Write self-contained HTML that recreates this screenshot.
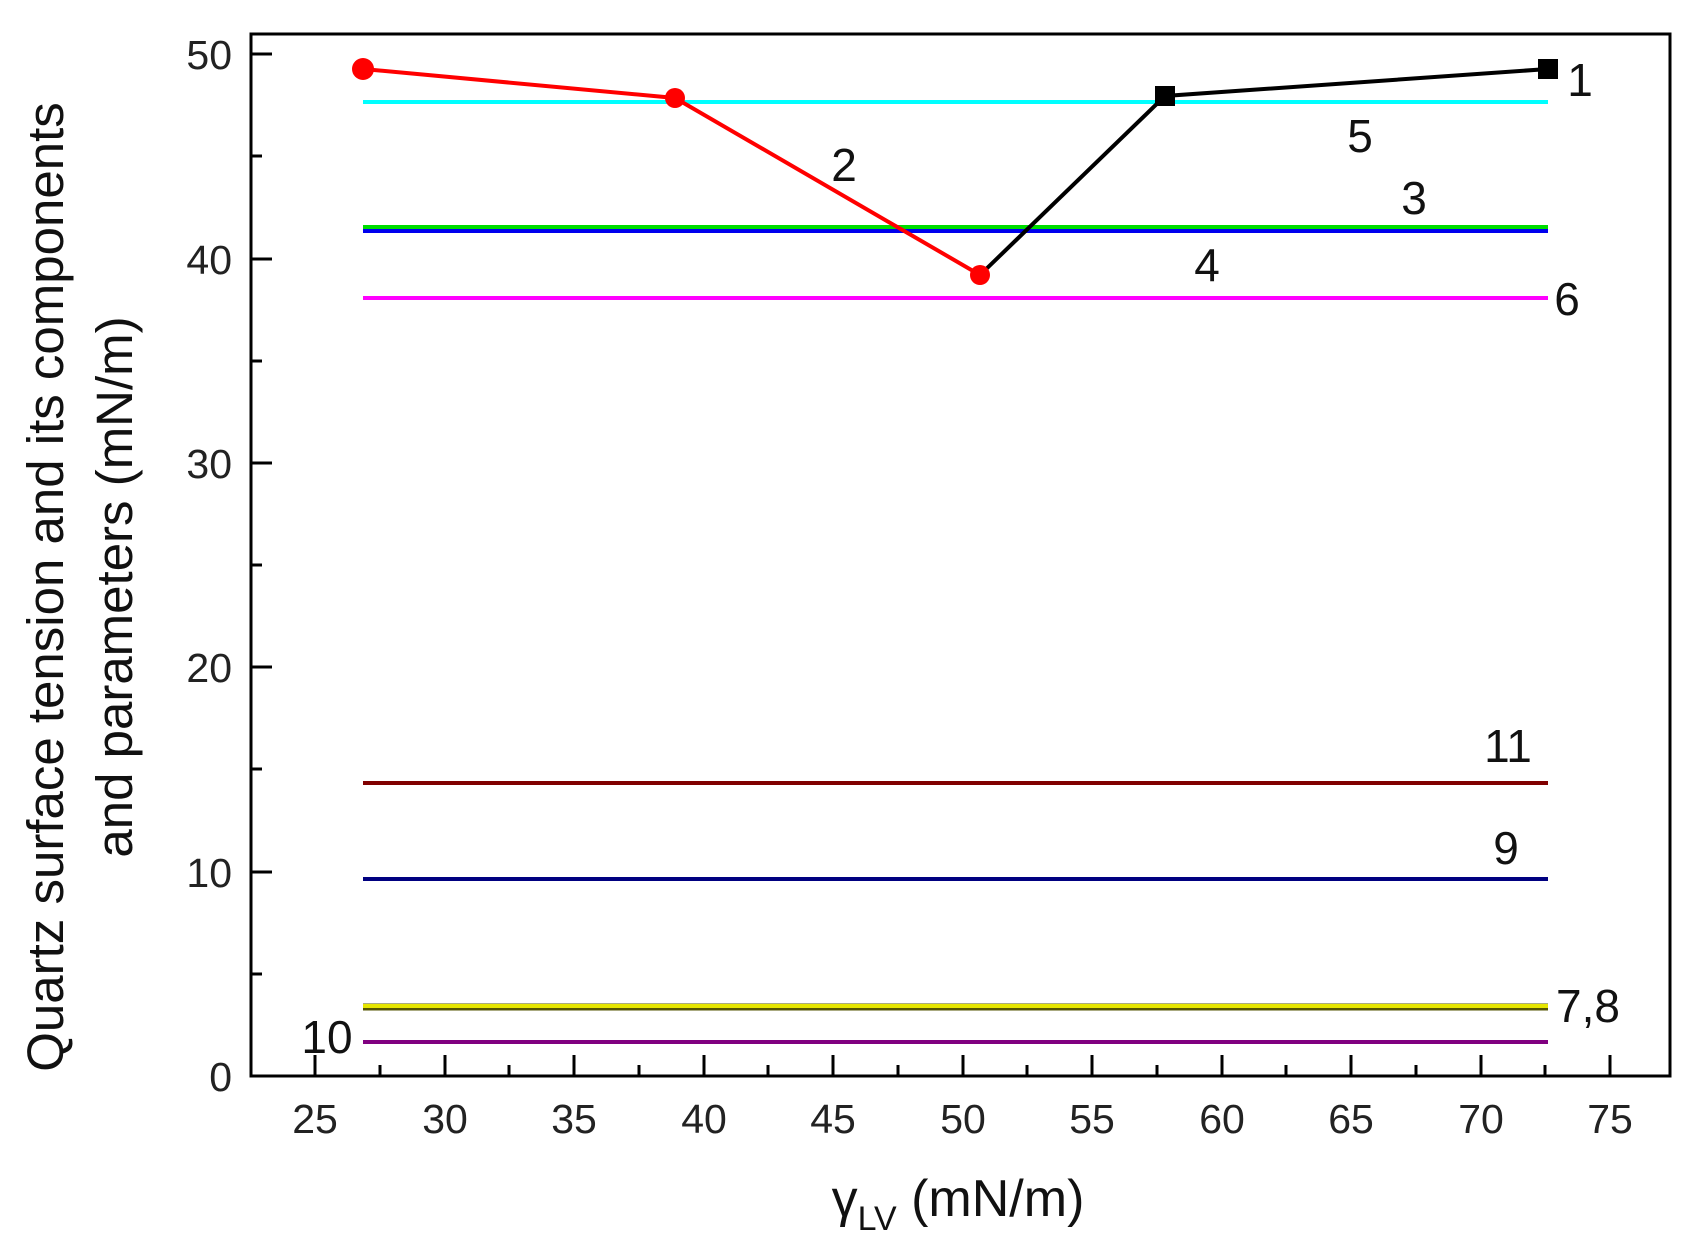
<!DOCTYPE html>
<html><head><meta charset="utf-8"><style>body{margin:0;background:#fff}svg{display:block}</style></head>
<body>
<svg width="1689" height="1258" xmlns="http://www.w3.org/2000/svg" font-family="Liberation Sans, Arial, sans-serif">
<rect width="1689" height="1258" fill="#fff"/>
<g stroke-width="4">
<line x1="363" x2="1548" y1="102" y2="102" stroke="#00ffff"/>
<line x1="363" x2="1548" y1="227" y2="227" stroke="#00dd00"/>
<line x1="363" x2="1548" y1="231" y2="231" stroke="#0000ee"/>
<line x1="363" x2="1548" y1="298" y2="298" stroke="#ff00ff"/>
<line x1="363" x2="1548" y1="783" y2="783" stroke="#800000"/>
<line x1="363" x2="1548" y1="879" y2="879" stroke="#000080"/>
<line x1="363" x2="1548" y1="1007" y2="1007" stroke="#555500" stroke-width="7"/>
<line x1="363" x2="1548" y1="1006" y2="1006" stroke="#e6e600" stroke-width="4"/>
<line x1="363" x2="1548" y1="1042" y2="1042" stroke="#800080"/>
</g>
<polyline points="980,275 1165,96 1548,69" fill="none" stroke="#000" stroke-width="4"/>
<polyline points="363,69 675,98 980,275" fill="none" stroke="#ff0000" stroke-width="4"/>
<rect x="1155" y="86" width="20" height="20" fill="#000"/>
<rect x="1538" y="59" width="20" height="20" fill="#000"/>
<g fill="#ff0000"><circle cx="363" cy="69" r="11"/><circle cx="675" cy="98" r="10"/><circle cx="980" cy="275" r="10"/></g>
<rect x="251" y="34" width="1419" height="1042" fill="none" stroke="#000" stroke-width="3"/>
<g stroke="#000" stroke-width="3">
<line x1="315" x2="315" y1="1076" y2="1055"/><line x1="445" x2="445" y1="1076" y2="1055"/><line x1="574" x2="574" y1="1076" y2="1055"/><line x1="704" x2="704" y1="1076" y2="1055"/><line x1="833" x2="833" y1="1076" y2="1055"/><line x1="963" x2="963" y1="1076" y2="1055"/><line x1="1092" x2="1092" y1="1076" y2="1055"/><line x1="1222" x2="1222" y1="1076" y2="1055"/><line x1="1351" x2="1351" y1="1076" y2="1055"/><line x1="1481" x2="1481" y1="1076" y2="1055"/><line x1="1610" x2="1610" y1="1076" y2="1055"/>
<line x1="380" x2="380" y1="1076" y2="1065"/><line x1="509" x2="509" y1="1076" y2="1065"/><line x1="639" x2="639" y1="1076" y2="1065"/><line x1="768" x2="768" y1="1076" y2="1065"/><line x1="898" x2="898" y1="1076" y2="1065"/><line x1="1027" x2="1027" y1="1076" y2="1065"/><line x1="1157" x2="1157" y1="1076" y2="1065"/><line x1="1286" x2="1286" y1="1076" y2="1065"/><line x1="1416" x2="1416" y1="1076" y2="1065"/><line x1="1545" x2="1545" y1="1076" y2="1065"/>
<line x1="251" x2="272" y1="872" y2="872"/><line x1="251" x2="272" y1="667" y2="667"/><line x1="251" x2="272" y1="463" y2="463"/><line x1="251" x2="272" y1="259" y2="259"/><line x1="251" x2="272" y1="54" y2="54"/>
<line x1="251" x2="262" y1="974" y2="974"/><line x1="251" x2="262" y1="769" y2="769"/><line x1="251" x2="262" y1="565" y2="565"/><line x1="251" x2="262" y1="361" y2="361"/><line x1="251" x2="262" y1="156" y2="156"/>
</g>
<g font-size="41" fill="#222" text-anchor="middle">
<text x="315" y="1133">25</text><text x="445" y="1133">30</text><text x="574" y="1133">35</text><text x="704" y="1133">40</text><text x="833" y="1133">45</text><text x="963" y="1133">50</text><text x="1092" y="1133">55</text><text x="1222" y="1133">60</text><text x="1351" y="1133">65</text><text x="1481" y="1133">70</text><text x="1610" y="1133">75</text>
</g>
<g font-size="41" fill="#222" text-anchor="end">
<text x="232" y="1091">0</text><text x="232" y="887">10</text><text x="232" y="682">20</text><text x="232" y="478">30</text><text x="232" y="274">40</text><text x="232" y="69">50</text>
</g>
<g font-size="46" fill="#111" text-anchor="middle">
<text x="1580" y="96">1</text><text x="1360" y="152">5</text><text x="844" y="181">2</text><text x="1414" y="214">3</text><text x="1207" y="281">4</text><text x="1567" y="315">6</text><text x="1508" y="762">11</text><text x="1506" y="864">9</text><text x="1588" y="1022">7,8</text><text x="327" y="1053">10</text>
</g>
<text x="958" y="1216" font-size="52" text-anchor="middle" fill="#111">γ<tspan font-size="34" dy="14">LV</tspan><tspan dy="-14"> (mN/m)</tspan></text>
<g font-size="51" fill="#111" text-anchor="middle">
<text transform="translate(63,587) rotate(-90)">Quartz surface tension and its components</text>
<text transform="translate(132,587) rotate(-90)">and parameters (mN/m)</text>
</g>
</svg>
</body></html>
